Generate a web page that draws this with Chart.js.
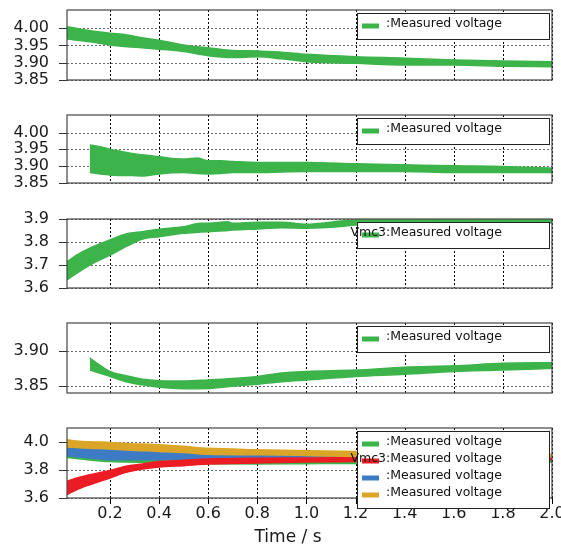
<!DOCTYPE html>
<html>
<head>
<meta charset="utf-8">
<script src="https://cdn.jsdelivr.net/npm/chart.js@4.4.1/dist/chart.umd.min.js"></script>
<style>
  html, body { margin: 0; padding: 0; background: #fff; }
  #wrap { position: relative; width: 561px; height: 547px; overflow: hidden; }
  #wrap canvas { position: absolute; left: 0; }
</style>
</head>
<body>
<div id="wrap">
  <canvas id="p1" width="561" height="91" style="top:0px"></canvas>
  <canvas id="p2" width="561" height="89" style="top:105px"></canvas>
  <canvas id="p3" width="561" height="90" style="top:209px"></canvas>
  <canvas id="p4" width="561" height="91" style="top:313px"></canvas>
  <canvas id="p5" width="561" height="129" style="top:418px"></canvas>
</div>
<script>
/* stacked voltage panels */

const GREEN  = '#3cb44a';
const RED    = '#ec1c24';
const BLUE   = '#3d7cc4';
const YELLOW = '#dba628';

const X_MIN = 0.025;
const X_MAX = 2.0;
const X_TICKS = ['0.2', '0.4', '0.6', '0.8', '1.0', '1.2', '1.4', '1.6', '1.8', '2.0'];
const X_TITLE = 'Time / s';

// y tick labels per panel
const Y_TICKS_1 = ['4.00', '3.95', '3.90', '3.85'];
const Y_TICKS_2 = ['4.00', '3.95', '3.90', '3.85'];
const Y_TICKS_3 = ['3.9', '3.8', '3.7', '3.6'];
const Y_TICKS_4 = ['3.90', '3.85'];
const Y_TICKS_5 = ['4.0', '3.8', '3.6'];

const LEGEND_1 = [':Measured voltage'];
const LEGEND_2 = [':Measured voltage'];
const LEGEND_3 = ['Vmc3:Measured voltage'];
const LEGEND_4 = [':Measured voltage'];
const LEGEND_5 = [':Measured voltage', 'Vmc3:Measured voltage', ':Measured voltage', ':Measured voltage'];

// panel 1 – upper / lower envelope of the noisy trace
const T1    = [0.025, 0.12, 0.2, 0.27, 0.33, 0.4, 0.5, 0.6, 0.7, 0.8, 0.9, 1.0, 1.2, 1.4, 1.6, 1.8, 2.0];
const P1_HI = [4.004, 3.992, 3.985, 3.980, 3.972, 3.965, 3.951, 3.943, 3.935, 3.934, 3.930, 3.924, 3.917, 3.913, 3.908, 3.905, 3.903];
const P1_LO = [3.968, 3.960, 3.951, 3.946, 3.943, 3.939, 3.932, 3.920, 3.915, 3.917, 3.911, 3.903, 3.898, 3.893, 3.893, 3.890, 3.888];

// panel 2
const T2    = [0.118, 0.16, 0.2, 0.29, 0.34, 0.4, 0.5, 0.555, 0.6, 0.65, 0.7, 0.8, 0.9, 1.0, 1.2, 1.4, 1.6, 1.8, 2.0];
const P2_HI = [3.963, 3.958, 3.950, 3.938, 3.933, 3.928, 3.921, 3.924, 3.916, 3.916, 3.914, 3.911, 3.911, 3.911, 3.907, 3.904, 3.901, 3.899, 3.894];
const P2_LO = [3.881, 3.877, 3.874, 3.872, 3.871, 3.877, 3.881, 3.878, 3.877, 3.878, 3.881, 3.881, 3.883, 3.884, 3.884, 3.884, 3.881, 3.881, 3.881];

// panel 3
const T3    = [0.025, 0.064, 0.118, 0.2, 0.265, 0.333, 0.4, 0.5, 0.57, 0.6, 0.68, 0.7, 0.8, 0.9, 1.0, 1.14, 1.2, 1.4, 1.6, 1.8, 2.0];
const P3_HI = [3.714, 3.743, 3.773, 3.809, 3.835, 3.845, 3.855, 3.866, 3.881, 3.881, 3.888, 3.881, 3.886, 3.886, 3.877, 3.891, 3.896, 3.898, 3.902, 3.899, 3.900];
const P3_LO = [3.635, 3.664, 3.700, 3.743, 3.780, 3.813, 3.823, 3.838, 3.843, 3.845, 3.850, 3.852, 3.857, 3.862, 3.860, 3.867, 3.874, 3.878, 3.880, 3.881, 3.883];

// panel 4
const T4    = [0.118, 0.138, 0.2, 0.265, 0.333, 0.4, 0.5, 0.6, 0.7, 0.8, 0.9, 1.0, 1.2, 1.4, 1.6, 1.8, 2.0];
const P4_HI = [3.890, 3.885, 3.871, 3.865, 3.860, 3.858, 3.8575, 3.859, 3.861, 3.864, 3.869, 3.871, 3.873, 3.877, 3.879, 3.8826, 3.8834];
const P4_LO = [3.873, 3.871, 3.864, 3.8565, 3.852, 3.8486, 3.8466, 3.847, 3.850, 3.853, 3.8565, 3.859, 3.864, 3.867, 3.871, 3.873, 3.8755];

// panel 5 – all four traces
const T5     = [0.025, 0.064, 0.118, 0.2, 0.265, 0.333, 0.4, 0.5, 0.6, 0.8, 1.0, 1.2, 1.4, 1.6, 1.8, 2.0];
const YEL_HI = [4.016, 4.008, 4.002, 3.997, 3.990, 3.985, 3.981, 3.969, 3.955, 3.945, 3.938, 3.933, 3.928, 3.922, 3.918, 3.912];
const YEL_LO = [3.964, 3.960, 3.955, 3.950, 3.943, 3.938, 3.933, 3.925, 3.912, 3.909, 3.904, 3.897, 3.895, 3.893, 3.892, 3.893];
const RED_HI = [3.719, 3.743, 3.766, 3.797, 3.826, 3.843, 3.861, 3.869, 3.878, 3.884, 3.886, 3.890, 3.890, 3.890, 3.890, 3.892];
const RED_LO = [3.624, 3.659, 3.695, 3.743, 3.783, 3.807, 3.821, 3.831, 3.842, 3.850, 3.857, 3.861, 3.865, 3.867, 3.869, 3.874];
const BLU_HI = [3.975, 3.968, 3.960, 3.955, 3.948, 3.942, 3.936, 3.930, 3.921, 3.915, 3.909, 3.905, 3.902, 3.900, 3.898, 3.897];
const BLU_LO = [3.902, 3.895, 3.886, 3.874, 3.874, 3.874, 3.874, 3.876, 3.874, 3.876, 3.881, 3.880, 3.879, 3.879, 3.878, 3.878];
const GRN_HI = [3.909, 3.900, 3.890, 3.878, 3.872, 3.869, 3.866, 3.864, 3.861, 3.860, 3.858, 3.860, 3.862, 3.864, 3.866, 3.868];
const GRN_LO = [3.890, 3.882, 3.872, 3.860, 3.857, 3.855, 3.853, 3.848, 3.845, 3.843, 3.845, 3.847, 3.850, 3.852, 3.854, 3.856];

Chart.defaults.font.family = '"DejaVu Sans", Verdana, sans-serif';
Chart.defaults.color = '#1a1a1a';

// pixel for a value through the scale; falls back on the scale's own range
function pix(scale, v, a, horizontal) {
  let p = scale.getPixelForValue(v);
  if (!Number.isFinite(p)) {
    const t = (v - scale.min) / (scale.max - scale.min);
    p = horizontal ? a.left + t * (a.right - a.left) : a.bottom - t * (a.bottom - a.top);
  }
  return Math.round(p);
}

// dotted lines as 2px dashes made of filled rects
function gridDots(chart, opts) {
  const { ctx, chartArea: a, scales: { x, y } } = chart;
  const L = Math.round(a.left), R = Math.round(a.right), T = Math.round(a.top), B = Math.round(a.bottom);
  (opts.yTicks || []).forEach(l => {
    const py = pix(y, parseFloat(l), a, false);
    if (!Number.isFinite(py)) return;
    ctx.fillStyle = '#6a6a6a';
    for (let px = L; px < R; px += 4) ctx.fillRect(px, py, Math.min(2, R - px), 1);
  });
  (opts.xTicks || []).forEach(l => {
    const px = pix(x, parseFloat(l), a, true);
    if (!Number.isFinite(px)) return;
    ctx.fillStyle = '#000';
    for (let py = T; py < B; py += 4) ctx.fillRect(px, py, 1, Math.min(2, B - py));
  });
}

/* grid under the data, drawn before the datasets */
const gridUnder = {
  id: 'gridUnder',
  beforeDatasetsDraw(chart, args, opts) {
    chart.ctx.save();
    gridDots(chart, opts);
    chart.ctx.restore();
  }
};

/* grid again slid behind the data, then tick marks and the plot frame */
const gridFrame = {
  id: 'gridFrame',
  afterDatasetsDraw(chart, args, opts) {
    const { ctx, chartArea: a, scales: { x, y } } = chart;
    ctx.save();
    ctx.globalCompositeOperation = 'destination-over';
    gridDots(chart, opts);
    ctx.globalCompositeOperation = 'source-over';

    const L = Math.round(a.left), B = Math.round(a.bottom);
    ctx.fillStyle = '#333';
    (opts.yTicks || []).forEach(l => {
      const py = pix(y, parseFloat(l), a, false);
      if (Number.isFinite(py)) ctx.fillRect(L - 8, py, 8, 1);
    });
    if (opts.xMarks) {
      ctx.fillStyle = '#000';
      (opts.xTicks || []).forEach(l => {
        const px = pix(x, parseFloat(l), a, true);
        if (Number.isFinite(px)) ctx.fillRect(px, B, 1, 6);
      });
    }
    ctx.strokeStyle = '#454545';
    ctx.lineWidth = 1.2;
    ctx.strokeRect(a.left, a.top, a.right - a.left, a.bottom - a.top);
    ctx.restore();
  }
};

/* boxed legend in the top-right corner, plus the x title on the last panel */
const boxLegend = {
  id: 'boxLegend',
  afterDraw(chart, args, opts) {
    const items = opts.items || [];
    const { ctx, chartArea: a } = chart;
    ctx.save();
    ctx.globalCompositeOperation = 'source-over';
    if (items.length) {
      const x = Math.round(a.right) - 195, y = Math.round(a.top) + 3;
      const w = 192, h = 9 + 17 * items.length;
      ctx.fillStyle = '#fff';
      ctx.fillRect(x, y, w, h);
      ctx.strokeStyle = '#222';
      ctx.lineWidth = 1;
      ctx.strokeRect(x + 0.5, y + 0.5, w, h);
      ctx.font = '12.5px "DejaVu Sans"';
      ctx.textBaseline = 'middle';
      items.forEach((it, i) => {
        const ty = y + 10.5 + 17 * i;
        ctx.fillStyle = it.color;
        ctx.fillRect(x + 5, ty, 17, 5);
        const cut = it.name.indexOf(':');
        ctx.fillStyle = '#111';
        ctx.textAlign = 'right';
        ctx.fillText(it.name.slice(0, cut), x + 29, ty);
        ctx.textAlign = 'left';
        ctx.fillText(it.name.slice(cut), x + 29, ty);
      });
    }
    if (opts.title) {
      ctx.font = '17px "DejaVu Sans"';
      ctx.fillStyle = '#1a1a1a';
      ctx.textAlign = 'center';
      ctx.textBaseline = 'middle';
      ctx.fillText(opts.title, 288, chart.height - 9);
    }
    ctx.restore();
  }
};

function band(times, hi, lo, color) {
  const pts = vals => times.map((t, i) => ({ x: t, y: vals[i] }));
  const common = { borderColor: color, borderWidth: 1.5, pointRadius: 0, cubicInterpolationMode: 'monotone' };
  return [
    { ...common, data: pts(hi), fill: '+1', backgroundColor: color },
    { ...common, data: pts(lo), fill: false },
  ];
}

function labelFor(list, v) {
  const hit = list.find(l => Math.abs(parseFloat(l) - v) < 1e-6);
  return hit === undefined ? '' : hit;
}

function makePanel(id, cfg) {
  const showX = !!cfg.showX;
  const gridOpts = { xTicks: X_TICKS, yTicks: cfg.yTicks, xMarks: showX };
  return new Chart(document.getElementById(id), {
    type: 'line',
    data: { datasets: cfg.bands.flatMap(b => band(...b)) },
    plugins: [gridUnder, gridFrame, boxLegend],
    options: {
      responsive: false,
      animation: false,
      layout: { padding: { top: 10, right: 9, bottom: showX ? 0 : 11, left: 0 } },
      plugins: {
        legend: { display: false },
        tooltip: { enabled: false },
        gridUnder: gridOpts,
        gridFrame: gridOpts,
        boxLegend: { items: cfg.legend, title: showX ? X_TITLE : '' },
      },
      scales: {
        x: {
          type: 'linear', min: X_MIN, max: X_MAX, bounds: 'data',
          afterBuildTicks: s => { s.ticks = X_TICKS.map(l => ({ value: parseFloat(l) })); },
          afterFit: s => { s.height = showX ? 49 : 0; s.paddingLeft = 0; s.paddingRight = 0; },
          ticks: {
            display: showX, autoSkip: false, maxRotation: 0, padding: 6,
            font: { size: 16 }, color: '#1a1a1a',
            callback: v => labelFor(X_TICKS, v),
          },
          grid: { display: false, drawTicks: false },
          border: { display: false },
        },
        y: {
          min: cfg.yMin, max: cfg.yMax, bounds: 'data',
          afterBuildTicks: s => { s.ticks = cfg.yTicks.map(l => ({ value: parseFloat(l) })); },
          afterFit: s => { s.width = 67; s.paddingTop = 0; s.paddingBottom = 0; },
          ticks: {
            autoSkip: false, padding: 18,
            font: { size: 16 }, color: '#1a1a1a',
            callback: v => labelFor(cfg.yTicks, v),
          },
          grid: { display: false, drawTicks: false },
          border: { display: false },
        },
      },
    },
  });
}

makePanel('p1', {
  yMin: 3.85, yMax: 4.052, yTicks: Y_TICKS_1,
  bands: [[T1, P1_HI, P1_LO, GREEN]],
  legend: LEGEND_1.map(name => ({ name, color: GREEN })),
});
makePanel('p2', {
  yMin: 3.85, yMax: 4.052, yTicks: Y_TICKS_2,
  bands: [[T2, P2_HI, P2_LO, GREEN]],
  legend: LEGEND_2.map(name => ({ name, color: GREEN })),
});
makePanel('p3', {
  yMin: 3.6, yMax: 3.9, yTicks: Y_TICKS_3,
  bands: [[T3, P3_HI, P3_LO, GREEN]],
  legend: LEGEND_3.map(name => ({ name, color: GREEN })),
});
makePanel('p4', {
  yMin: 3.8405, yMax: 3.9397, yTicks: Y_TICKS_4,
  bands: [[T4, P4_HI, P4_LO, GREEN]],
  legend: LEGEND_4.map(name => ({ name, color: GREEN })),
});
const P5_COLORS = [GREEN, RED, BLUE, YELLOW];
makePanel('p5', {
  yMin: 3.6, yMax: 4.1, yTicks: Y_TICKS_5, showX: true,
  // first band is drawn on top
  bands: [
    [T5, YEL_HI, YEL_LO, YELLOW],
    [T5, RED_HI, RED_LO, RED],
    [T5, BLU_HI, BLU_LO, BLUE],
    [T5, GRN_HI, GRN_LO, GREEN],
  ],
  legend: LEGEND_5.map((name, i) => ({ name, color: P5_COLORS[i] })),
});
</script>
</body>
</html>
